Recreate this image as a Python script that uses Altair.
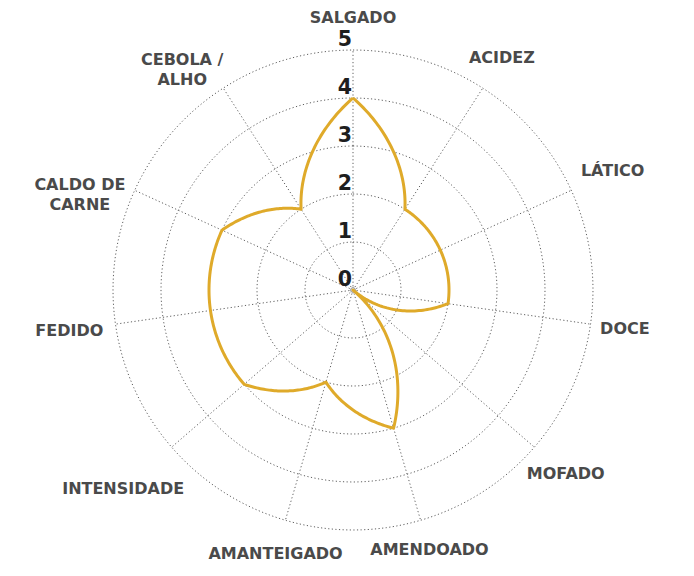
import altair as alt
import pandas as pd

# ---- data ----
categories = ["SALGADO", "ACIDEZ", "LÁTICO", "DOCE", "MOFADO", "AMENDOADO",
              "AMANTEIGADO", "INTENSIDADE", "FEDIDO", "CALDO DE\nCARNE", "CEBOLA /\nALHO"]
values = [4, 2, 2, 2, 0, 3, 2, 3, 3, 3, 2]
levels = [1, 2, 3, 4, 5]
tick_values = [0, 1, 2, 3, 4, 5]
tick_labels = ["0", "1", "2", "3", "4", "5"]

N = len(categories)
LINE = "#DFAA2A"
GRID = "#5f5f5f"
TEXT = "#4a4a4a"
TICK = "#1e1e1e"

cat_df = pd.DataFrame({
    "i": list(range(N)),
    "cat": categories,
    "v": values,
    "vnext": values[1:] + values[:1],
})
ring_df = pd.DataFrame({"level": levels})
tick_df = pd.DataFrame({"lv": tick_values, "label": tick_labels})

PX = 48.0  # pixels per unit of the radial scale
xs = alt.Scale(domain=[-345 / PX, (676 - 345) / PX], nice=False, zero=False)
ys = alt.Scale(domain=[-(560 - 282) / PX, 282 / PX], nice=False, zero=False)

def X(f):
    return alt.X(f, type="quantitative", scale=xs, axis=None)

def Y(f):
    return alt.Y(f, type="quantitative", scale=ys, axis=None)

ANG = f"2*PI*datum.i/{N}"

rings = alt.Chart(ring_df).transform_calculate(
    t="sequence(0, 361, 2)"
).transform_flatten(["t"]).transform_calculate(
    x="datum.level*sin(datum.t*PI/180)",
    y="datum.level*cos(datum.t*PI/180)",
).mark_line(strokeDash=[1.2, 2.4], color=GRID, strokeWidth=1).encode(
    x=X("x"), y=Y("y"), detail="level:N", order="t:Q"
)

spokes = alt.Chart(cat_df).transform_calculate(
    a=ANG, x0="0", y0="0",
    x1="5*sin(datum.a)", y1="5*cos(datum.a)",
).mark_rule(strokeDash=[1.2, 2.4], color=GRID, strokeWidth=1).encode(
    x=X("x0"), y=Y("y0"), x2="x1:Q", y2="y1:Q"
)

center = alt.Chart(pd.DataFrame({"c": [0]})).mark_point(
    size=22, color=GRID, filled=False, strokeWidth=1
).encode(x=X("c"), y=Y("c"))

# profile line: straight in polar space (radius changes linearly with angle)
profile = alt.Chart(cat_df).transform_calculate(
    f="sequence(0, 1.0001, 0.02)"
).transform_flatten(["f"]).transform_calculate(
    r="datum.v + (datum.vnext - datum.v)*datum.f",
    a=f"2*PI*(datum.i + datum.f)/{N}",
    x="datum.r*sin(datum.a)",
    y="datum.r*cos(datum.a)",
    o="datum.i + datum.f",
).mark_line(color=LINE, strokeWidth=3, strokeJoin="round").encode(
    x=X("x"), y=Y("y"), order="o:Q"
)

ticks = alt.Chart(tick_df).transform_calculate(x0="0").mark_text(
    align="right", baseline="alphabetic", dx=-1, dy=-4,
    font="DejaVu Sans", fontSize=20.5, fontWeight="bold", color=TICK
).encode(x=X("x0"), y=Y("lv"), text="label:N")

labels = alt.Chart(cat_df).transform_calculate(
    idx="indexof(datum.cat, '\\n')",
).transform_calculate(
    ml="datum.idx >= 0 ? 1 : 0",
    n="datum.idx < 0 ? length(datum.cat) : datum.idx",
).transform_calculate(
    aa=f"2*PI*datum.i/{N} - datum.ml*4.5*PI/180",
).transform_calculate(
    lr=("(250 - 10*datum.ml + 6*datum.n*abs(sin(datum.aa)) "
        "+ (6.5 + 10*datum.ml)*abs(cos(datum.aa)) "
        "+ 16*pow(max(0, cos(datum.aa)), 20))/48"),
).transform_calculate(
    lx="datum.lr*sin(datum.aa)",
    ly="datum.lr*cos(datum.aa) + datum.ml*5/48",
).mark_text(
    align="center", baseline="middle", lineBreak="\n", lineHeight=20,
    font="DejaVu Sans", fontSize=16, fontWeight="bold", color=TEXT
).encode(x=X("lx"), y=Y("ly"), text="cat:N")

chart = alt.layer(rings, spokes, center, profile, ticks, labels).properties(
    width=676, height=560,
    autosize=alt.AutoSizeParams(type="none"),
    padding=0,
).configure_view(stroke=None)

chart.save("out.html", embed_options={"renderer": "svg", "actions": False})
